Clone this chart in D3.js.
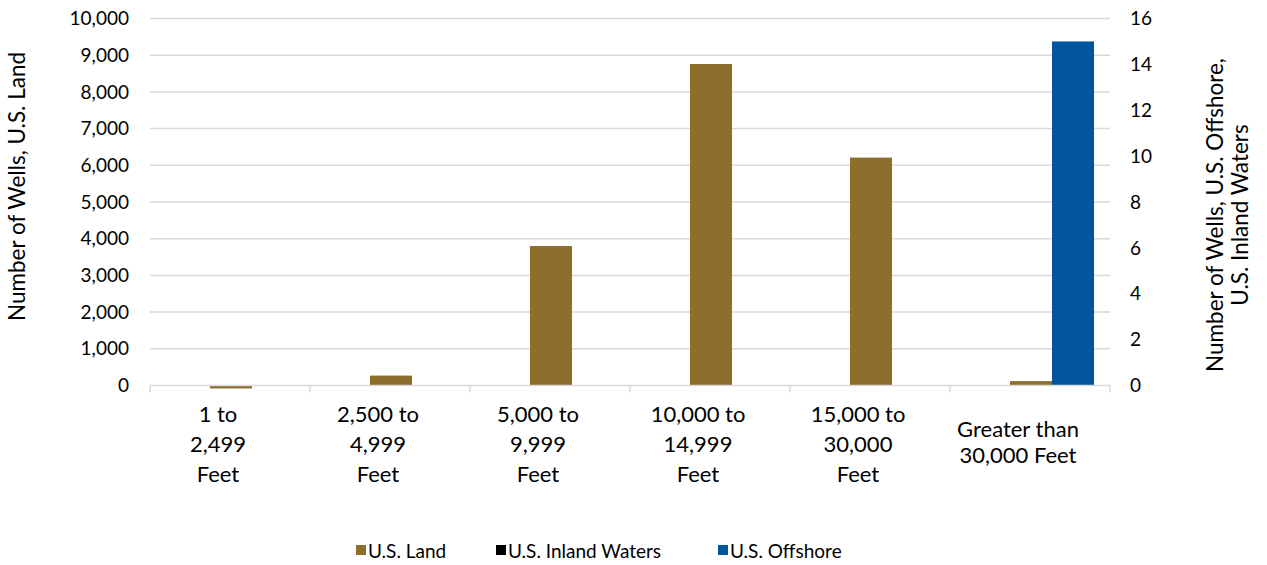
<!DOCTYPE html>
<html>
<head>
<meta charset="utf-8">
<script src="https://cdn.jsdelivr.net/npm/d3@7"></script>
<style>
  body { margin: 0; background: #fff; }
  svg { font-family: Lato, "Open Sans", sans-serif; }
</style>
</head>
<body>
<div id="chart"></div>
<script>
// data
const categories = [
  ["1 to", "2,499", "Feet"],
  ["2,500 to", "4,999", "Feet"],
  ["5,000 to", "9,999", "Feet"],
  ["10,000 to", "14,999", "Feet"],
  ["15,000 to", "30,000", "Feet"],
  ["Greater than", "30,000 Feet"]
];
const seriesNames = ["U.S. Land", "U.S. Inland Waters", "U.S. Offshore"];
const landValues = [-80, 270, 3800, 8760, 6210, 120];      // left axis
const inlandValues = [0, 0, 0, 0, 0, 0];                   // right axis
const offshoreValues = [0, 0, 0, 0, 0, 15];                // right axis
const leftTicks = [0, 1000, 2000, 3000, 4000, 5000, 6000, 7000, 8000, 9000, 10000];
const rightTicks = [0, 2, 4, 6, 8, 10, 12, 14, 16];

const colors = {
  "U.S. Land": "#8d6e2c",
  "U.S. Inland Waters": "#000000",
  "U.S. Offshore": "#02549d"
};

const width = 1267, height = 565;
const margin = { top: 18.5, right: 157, bottom: 179.5, left: 150 };
const innerW = width - margin.left - margin.right;
const innerH = height - margin.top - margin.bottom;

const svg = d3.select("#chart").append("svg")
  .attr("width", width)
  .attr("height", height);

const g = svg.append("g")
  .attr("transform", `translate(${margin.left},${margin.top})`);

const x0 = d3.scaleBand()
  .domain(d3.range(categories.length))
  .range([0, innerW])
  .paddingInner(0)
  .paddingOuter(0);

// series slots inside a category (inland sits left of land in the original)
const x1 = d3.scaleBand()
  .domain(["U.S. Inland Waters", "U.S. Land", "U.S. Offshore"])
  .range([18, 144]);

const yL = d3.scaleLinear().domain([0, 10000]).range([innerH, 0]);
const yR = d3.scaleLinear().domain([0, 16]).range([innerH, 0]);

// gridlines
g.append("g")
  .selectAll("line")
  .data(leftTicks.slice(1))
  .join("line")
  .attr("x1", 0)
  .attr("x2", innerW)
  .attr("y1", d => yL(d))
  .attr("y2", d => yL(d))
  .attr("stroke", "#d9d9d9")
  .attr("stroke-width", 1.5);

// bars
const rows = [
  { name: "U.S. Land", values: landValues, y: yL },
  { name: "U.S. Inland Waters", values: inlandValues, y: yR },
  { name: "U.S. Offshore", values: offshoreValues, y: yR }
];

rows.forEach(s => {
  g.append("g")
    .selectAll("rect")
    .data(s.values)
    .join("rect")
    .attr("x", (d, i) => x0(i) + x1(s.name))
    .attr("width", x1.bandwidth())
    .attr("y", d => Math.min(s.y(d), s.y(0)))
    .attr("height", d => Math.abs(s.y(0) - s.y(d)))
    .attr("fill", colors[s.name]);
});

// x axis line and category ticks
const xAxis = g.append("g").attr("transform", `translate(0,${innerH})`);
xAxis.append("line")
  .attr("x1", 0).attr("x2", innerW)
  .attr("stroke", "#d9d9d9").attr("stroke-width", 1.5);
xAxis.selectAll("line.tick")
  .data(d3.range(categories.length + 1))
  .join("line")
  .attr("class", "tick")
  .attr("x1", i => i * x0.step())
  .attr("x2", i => i * x0.step())
  .attr("y1", 0).attr("y2", 7)
  .attr("stroke", "#d9d9d9").attr("stroke-width", 1.5);

// category labels (sit a little left of centre in the original)
const catLabels = xAxis.selectAll("text.cat")
  .data(categories)
  .join("text")
  .attr("class", "cat")
  .attr("text-anchor", "middle")
  .attr("font-size", 22)
  .attr("fill", "#000");

catLabels.each(function(lines, i) {
  const t = d3.select(this);
  const cx = x0(i) + x0.bandwidth() / 2 - 12;
  const step = lines.length === 3 ? 30 : 26;
  const start = lines.length === 3 ? 36.5 : 51.5;
  lines.forEach((line, k) => {
    t.append("tspan")
      .attr("x", cx)
      .attr("y", start + k * step)
      .text(line);
  });
});

// left tick labels
g.append("g")
  .selectAll("text")
  .data(leftTicks)
  .join("text")
  .attr("x", -21)
  .attr("y", d => yL(d))
  .attr("dy", "0.35em")
  .attr("text-anchor", "end")
  .attr("font-size", 19)
  .attr("fill", "#000")
  .text(d => d3.format(",")(d));

// right tick labels
g.append("g")
  .selectAll("text")
  .data(rightTicks)
  .join("text")
  .attr("x", innerW + 20)
  .attr("y", d => yR(d))
  .attr("dy", "0.35em")
  .attr("text-anchor", "start")
  .attr("font-size", 19)
  .attr("fill", "#000")
  .text(d => d);

// axis titles
svg.append("text")
  .attr("transform", `translate(25,${margin.top + 168}) rotate(-90)`)
  .attr("text-anchor", "middle")
  .attr("font-size", 22.5)
  .attr("fill", "#000")
  .text("Number of Wells, U.S. Land");

const rTitle = svg.append("text")
  .attr("transform", `translate(1223,215) rotate(-90)`)
  .attr("text-anchor", "middle")
  .attr("font-size", 22.5)
  .attr("fill", "#000");
rTitle.append("tspan").attr("x", 0).attr("y", 0).text("Number of Wells, U.S. Offshore,");
rTitle.append("tspan").attr("x", 0).attr("y", 25).text("U.S. Inland Waters");

// legend
const legendItems = [
  { name: "U.S. Land", x: 356 },
  { name: "U.S. Inland Waters", x: 496 },
  { name: "U.S. Offshore", x: 718 }
];
const legend = svg.append("g").attr("transform", "translate(0,551)");
legendItems.forEach(item => {
  legend.append("rect")
    .attr("x", item.x).attr("y", -6)
    .attr("width", 10).attr("height", 10)
    .attr("fill", colors[item.name]);
  legend.append("text")
    .attr("x", item.x + 12).attr("y", 0)
    .attr("dy", "0.35em")
    .attr("font-size", 19)
    .attr("fill", "#000")
    .text(item.name);
});
</script>
</body>
</html>
